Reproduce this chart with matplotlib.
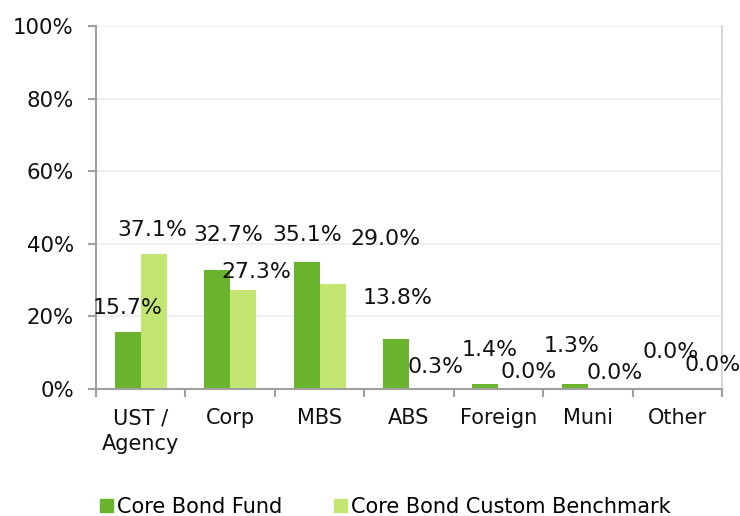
import matplotlib.pyplot as plt
import numpy as np
from matplotlib.patches import Patch

# данные
categories = ['UST /\nAgency', 'Corp', 'MBS', 'ABS', 'Foreign', 'Muni', 'Other']
fund = [15.7, 32.7, 35.1, 13.8, 1.4, 1.3, 0.0]
bench = [37.1, 27.3, 29.0, 0.3, 0.0, 0.0, 0.0]
yticks = [0, 20, 40, 60, 80, 100]

# смещения подписей (в пикселях) относительно верха столбца
fund_off = [(-0.5, 24), (11, 35), (1, 27), (1, 41), (4, 34), (-3, 38), (6, 37)]
bench_off = [(-1, 24), (13, 18), (53, 45), (14, 21), (17, 17), (14, 16), (22, 24)]

c_fund = '#6ab42d'
c_bench = '#c3e673'

fig = plt.figure(figsize=(7.4, 5.16), dpi=100)
ax = fig.add_axes([96/740, 127/516, 626/740, 363/516])

x = np.arange(len(categories))
w = 0.29
b1 = ax.bar(x - w/2, fund, w, color=c_fund)
b2 = ax.bar(x + w/2, bench, w, color=c_bench)

for bars, vals, offs in [(b1, fund, fund_off), (b2, bench, bench_off)]:
    for r, v, (dx, dy) in zip(bars, vals, offs):
        ax.annotate(f'{v:.1f}%', (r.get_x() + r.get_width()/2, v),
                    xytext=(dx, dy), textcoords='offset pixels',
                    ha='center', va='center', fontsize=15.8, color='#111111')

ax.set_xlim(-0.5, len(categories) - 0.5)
ax.set_ylim(0, 100)
ax.set_yticks(yticks)
ax.set_yticklabels([f'{t}%' for t in yticks], fontsize=15.3, color='#111111')
ax.set_xticks(x)
ax.set_xticklabels(categories, fontsize=15, color='#111111', linespacing=1.35)
ax.set_xticks(np.arange(-0.5, len(categories)), minor=True)
ax.tick_params(axis='x', which='major', length=0, pad=14)
ax.tick_params(axis='x', which='minor', length=6, color='#a0a0a0', width=1.5)
ax.tick_params(axis='y', length=6, color='#a0a0a0', width=1.5, pad=10)
ax.grid(axis='y', color='#ebebeb', linewidth=1.2)
ax.set_axisbelow(True)

for s in ['left', 'bottom']:
    ax.spines[s].set_color('#a0a0a0')
    ax.spines[s].set_linewidth(1.5)
ax.spines['right'].set_color('#d9d9d9')
ax.spines['right'].set_linewidth(1.5)
ax.spines['top'].set_visible(False)

handles = [Patch(color=c_fund, label='Core Bond Fund'),
           Patch(color=c_bench, label='Core Bond Custom Benchmark')]
fig.legend(handles=handles, loc='center left', bbox_to_anchor=(92/740, 1 - 507/516),
           ncol=2, frameon=False, fontsize=15, handlelength=0.6, handleheight=0.6,
           handletextpad=0.2, columnspacing=2.5, borderaxespad=0)

fig.savefig('out.png', dpi=100)
